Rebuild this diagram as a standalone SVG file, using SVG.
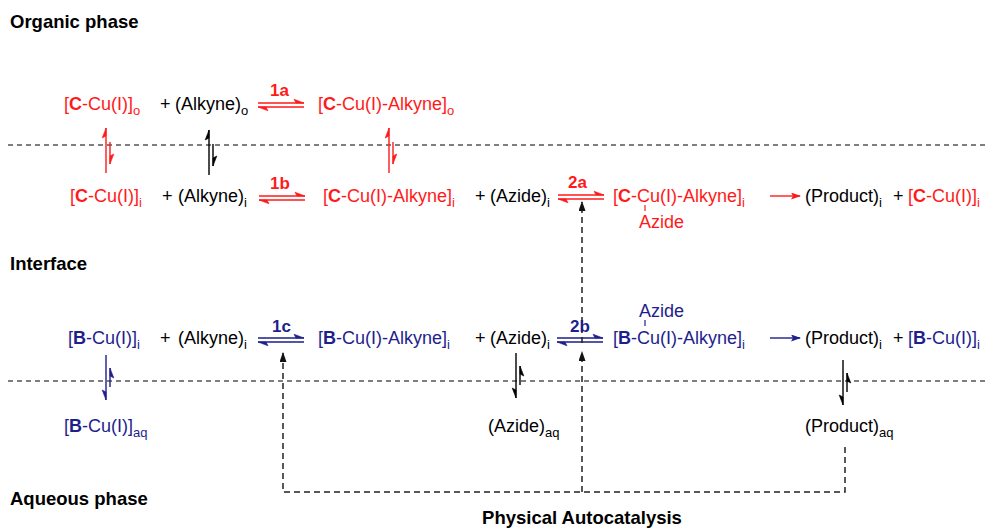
<svg xmlns="http://www.w3.org/2000/svg" xmlns:xlink="http://www.w3.org/1999/xlink" width="985" height="529" viewBox="0 0 985 529">
<style>
text{font-family:"Liberation Sans",Arial,sans-serif;font-size:18px;fill:#000}
.r{fill:#ff1a1a;color:#ff1a1a}
.b{fill:#1e1e8c;color:#1e1e8c}
.k{color:#000}
.bd{font-weight:bold}
.lab{font-weight:bold;font-size:17px}
.hd{font-weight:bold;font-size:18.5px}
.sub{font-size:13px}
.div{stroke:#000;stroke-width:1.2;stroke-dasharray:5 4;fill:none}
.auto{stroke:#222;stroke-width:1.5;stroke-dasharray:6 4;fill:none}
.tick{stroke-width:1.2}
</style>
<defs>
<g id="eqh" stroke="currentColor" fill="currentColor">
<path d="M0,0H46M0,4H46" stroke-width="1.4" fill="none"/>
<polygon points="46,0 36,-3.8 38,0" stroke-width="0.6"/>
<polygon points="0,4 10,7.8 8,4" stroke-width="0.6"/>
</g>
<g id="eqvu" stroke="currentColor" fill="currentColor">
<path d="M0,0V45M4,14V36" stroke-width="1.4" fill="none"/>
<polygon points="0,0 -3.8,10 0,8" stroke-width="0.6"/>
<polygon points="4,36 7.8,26 4,28" stroke-width="0.6"/>
</g>
<g id="eqvd" stroke="currentColor" fill="currentColor">
<path d="M0,0V45M4,13V32" stroke-width="1.4" fill="none"/>
<polygon points="0,45 -3.8,35 0,37" stroke-width="0.6"/>
<polygon points="4,13 7.8,23 4,21" stroke-width="0.6"/>
</g>
<marker id="ak" markerUnits="userSpaceOnUse" markerWidth="10" markerHeight="8" refX="9" refY="3.5" orient="auto"><path d="M0,0L10,3.5L0,7z" fill="#111"/></marker>
<marker id="ar" markerUnits="userSpaceOnUse" markerWidth="10" markerHeight="8" refX="9" refY="3.5" orient="auto"><path d="M0,0L10,3.5L0,7L2,3.5z" fill="#ff1a1a"/></marker>
<marker id="ab" markerUnits="userSpaceOnUse" markerWidth="10" markerHeight="8" refX="9" refY="3.5" orient="auto"><path d="M0,0L10,3.5L0,7L2,3.5z" fill="#1e1e8c"/></marker>
</defs>

<g id="headings">
<text class="hd" x="10" y="28">Organic phase</text>
<text class="hd" x="10" y="270">Interface</text>
<text class="hd" x="10" y="505">Aqueous phase</text>
<text class="hd" x="582" y="524" text-anchor="middle">Physical Autocatalysis</text>
</g>

<g id="dividers">
<path class="div" d="M8,145H985M8,381H985"/>
</g>

<g id="connectors">
<use xlink:href="#eqh" class="r" x="258" y="103"/>
<use xlink:href="#eqh" class="r" x="259" y="196"/>
<use xlink:href="#eqh" class="b" x="258" y="338"/>
<use xlink:href="#eqh" class="r" x="558" y="195"/>
<use xlink:href="#eqh" class="b" x="557" y="338"/>
<use xlink:href="#eqvu" class="r" x="106" y="128"/>
<use xlink:href="#eqvu" class="k" x="209" y="130"/>
<use xlink:href="#eqvu" class="r" x="389" y="128"/>
<use xlink:href="#eqvd" class="b" x="106" y="355"/>
<use xlink:href="#eqvd" class="k" x="516" y="353"/>
<use xlink:href="#eqvd" class="k" x="843" y="360"/>
<path d="M770,196H800" stroke="#ff1a1a" stroke-width="1.4" marker-end="url(#ar)"/>
<path d="M770,338H800" stroke="#1e1e8c" stroke-width="1.4" marker-end="url(#ab)"/>
<path class="auto" d="M845,447V492H283V353" marker-end="url(#ak)"/>
<path class="auto" d="M582,492V352" marker-end="url(#ak)"/>
<path class="auto" d="M582,343V202" marker-end="url(#ak)"/>
<path class="tick" d="M645,205V211" stroke="#ff1a1a"/>
<path class="tick" d="M645,320V326" stroke="#1e1e8c"/>
</g>

<g id="labels">
<text class="lab r" x="270" y="96">1a</text>
<text class="lab r" x="270" y="189">1b</text>
<text class="lab b" x="272" y="332">1c</text>
<text class="lab r" x="568" y="188">2a</text>
<text class="lab b" x="570" y="332">2b</text>
</g>

<g id="n-CCu-o"><text class="r" x="64" y="110">[<tspan class="bd">C</tspan>-Cu(I)]<tspan class="sub" dy="5">o</tspan></text></g>
<g id="n-plus1"><text x="160" y="110">+</text></g>
<g id="n-alkyne-o"><text x="175" y="110">(Alkyne)<tspan class="sub" dy="5">o</tspan></text></g>
<g id="n-CCuAlk-o"><text class="r" x="318" y="110">[<tspan class="bd">C</tspan>-Cu(I)-Alkyne]<tspan class="sub" dy="5">o</tspan></text></g>

<g id="n-CCu-i"><text class="r" x="70" y="202">[<tspan class="bd">C</tspan>-Cu(I)]<tspan class="sub" dy="5">i</tspan></text></g>
<g id="n-plus2"><text x="162" y="202">+</text></g>
<g id="n-alkyne-i1"><text x="178" y="202">(Alkyne)<tspan class="sub" dy="5">i</tspan></text></g>
<g id="n-CCuAlk-i"><text class="r" x="323" y="202">[<tspan class="bd">C</tspan>-Cu(I)-Alkyne]<tspan class="sub" dy="5">i</tspan></text></g>
<g id="n-plus3"><text x="475" y="202">+</text></g>
<g id="n-azide-i1"><text x="490" y="202">(Azide)<tspan class="sub" dy="5">i</tspan></text></g>
<g id="n-CCuAlkAz-i"><text class="r" x="613" y="202">[<tspan class="bd">C</tspan>-Cu(I)-Alkyne]<tspan class="sub" dy="5">i</tspan></text><text class="r" x="639" y="228">Azide</text></g>
<g id="n-product-i1"><text x="805" y="202">(Product)<tspan class="sub" dy="5">i</tspan></text></g>
<g id="n-plus4"><text x="893" y="202">+</text></g>
<g id="n-CCu-i2"><text class="r" x="908" y="202">[<tspan class="bd">C</tspan>-Cu(I)]<tspan class="sub" dy="5">i</tspan></text></g>

<g id="n-BCu-i"><text class="b" x="68" y="344">[<tspan class="bd">B</tspan>-Cu(I)]<tspan class="sub" dy="5">i</tspan></text></g>
<g id="n-plus5"><text x="160" y="344">+</text></g>
<g id="n-alkyne-i2"><text x="178" y="344">(Alkyne)<tspan class="sub" dy="5">i</tspan></text></g>
<g id="n-BCuAlk-i"><text class="b" x="318" y="344">[<tspan class="bd">B</tspan>-Cu(I)-Alkyne]<tspan class="sub" dy="5">i</tspan></text></g>
<g id="n-plus6"><text x="475" y="344">+</text></g>
<g id="n-azide-i2"><text x="490" y="344">(Azide)<tspan class="sub" dy="5">i</tspan></text></g>
<g id="n-BCuAlkAz-i"><text class="b" x="613" y="344">[<tspan class="bd">B</tspan>-Cu(I)-Alkyne]<tspan class="sub" dy="5">i</tspan></text><text class="b" x="639" y="317">Azide</text></g>
<g id="n-product-i2"><text x="805" y="344">(Product)<tspan class="sub" dy="5">i</tspan></text></g>
<g id="n-plus7"><text x="893" y="344">+</text></g>
<g id="n-BCu-i2"><text class="b" x="908" y="344">[<tspan class="bd">B</tspan>-Cu(I)]<tspan class="sub" dy="5">i</tspan></text></g>

<g id="n-BCu-aq"><text class="b" x="64" y="432">[<tspan class="bd">B</tspan>-Cu(I)]<tspan class="sub" dy="5">aq</tspan></text></g>
<g id="n-azide-aq"><text x="488" y="432">(Azide)<tspan class="sub" dy="5">aq</tspan></text></g>
<g id="n-product-aq"><text x="805" y="432">(Product)<tspan class="sub" dy="5">aq</tspan></text></g>
</svg>
